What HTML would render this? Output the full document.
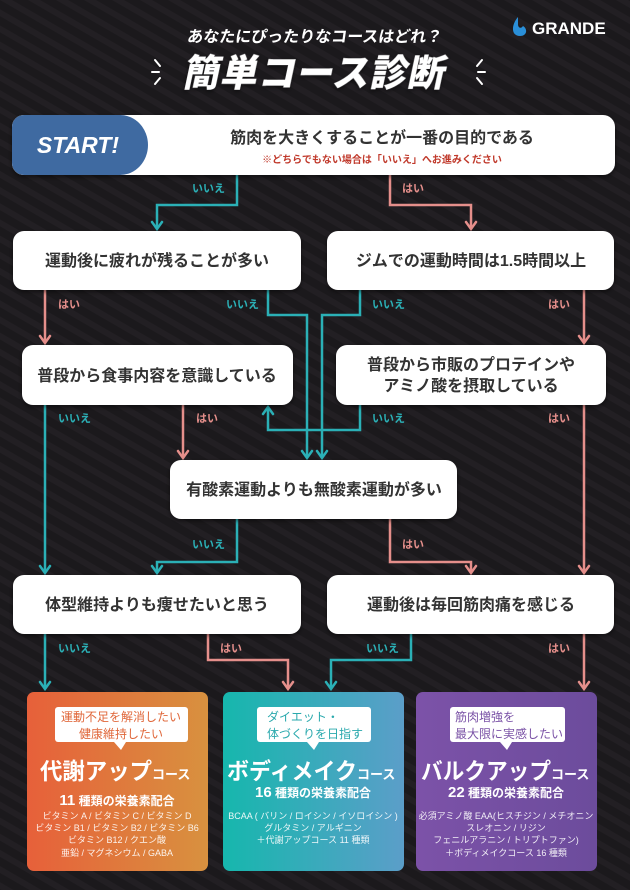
<!DOCTYPE html>
<html><head><meta charset="utf-8"><style>
html,body{margin:0;padding:0;background:#1b191c;}
svg{display:block}
text{font-family:"Liberation Sans","Noto Sans CJK JP",sans-serif;}
</style></head><body>
<svg width="630" height="890" viewBox="0 0 630 890" xmlns="http://www.w3.org/2000/svg">
<defs>
<pattern id="st" width="14" height="14" patternUnits="userSpaceOnUse" patternTransform="rotate(-60)">
<rect width="14" height="14" fill="#1b191c"/><rect width="6" height="14" fill="#221f23"/>
</pattern>
<linearGradient id="g1" x1="0" x2="1"><stop offset="0" stop-color="#e7603a"/><stop offset="1" stop-color="#d8913f"/></linearGradient>
<linearGradient id="g2" x1="0" x2="1"><stop offset="0" stop-color="#16b7ad"/><stop offset="1" stop-color="#5b9ec9"/></linearGradient>
<linearGradient id="g3" x1="0" x2="1"><stop offset="0" stop-color="#7c52a8"/><stop offset="1" stop-color="#6c4c9c"/></linearGradient>
<filter id="sh"><feDropShadow dx="0" dy="2" stdDeviation="2" flood-color="#000" flood-opacity="0.5"/></filter>
</defs>
<rect width="630" height="890" fill="url(#st)"/>

<!-- header -->
<text x="315" y="42" font-size="16" fill="#fff" text-anchor="middle" font-weight="bold" transform="skewX(-8) translate(5,0)">あなたにぴったりなコースはどれ？</text>
<text x="314" y="86" font-size="37" fill="#fff" text-anchor="middle" font-weight="900" transform="skewX(-12) translate(17,0)" filter="url(#sh)" textLength="262">簡単コース診断</text>
<g stroke="#fff" stroke-width="2" stroke-linecap="round">
<line x1="155" y1="60" x2="160" y2="66"/><line x1="152" y1="72" x2="159" y2="72"/><line x1="155" y1="84" x2="160" y2="78"/>
<line x1="482" y1="60" x2="477" y2="66"/><line x1="485" y1="72" x2="478" y2="72"/><line x1="482" y1="84" x2="477" y2="78"/>
</g>
<path d="M518 17 C511 25 511 36 520 36 C527 36 528 29 523 26 C521 29 518 28 518 24 Z" fill="#2a8fd8"/>
<text x="532" y="34" font-size="17" fill="#fff" font-weight="bold">GRANDE</text>

<!-- connectors -->
<g fill="none" stroke-width="2.5">
<g stroke="#2bb0b6">
<polyline points="237,175 237,205 157,205 157,228"/>
<polyline points="268,290 268,315 307,315 307,457"/>
<polyline points="360,290 360,315 322,315 322,457"/>
<polyline points="45,405 45,572"/>
<polyline points="360,405 360,430 268,430 268,408"/>
<polyline points="237,519 237,562 157,562 157,572"/>
<polyline points="45,634 45,688"/>
<polyline points="411,634 411,660 331,660 331,688"/>
</g>
<g stroke="#e58f8b">
<polyline points="390,175 390,205 471,205 471,228"/>
<polyline points="45,290 45,342"/>
<polyline points="584,290 584,342"/>
<polyline points="183,405 183,457"/>
<polyline points="584,405 584,572"/>
<polyline points="390,519 390,562 471,562 471,572"/>
<polyline points="208,634 208,660 288,660 288,688"/>
<polyline points="584,634 584,688"/>
</g>
<g stroke="#2bb0b6" stroke-linecap="round">
<polyline points="152,222 157,229 162,222"/><polyline points="302,451 307,458 312,451"/><polyline points="317,451 322,458 327,451"/>
<polyline points="40,566 45,573 50,566"/><polyline points="263,414 268,407 273,414"/><polyline points="152,566 157,573 162,566"/>
<polyline points="40,682 45,689 50,682"/><polyline points="326,682 331,689 336,682"/>
</g>
<g stroke="#e58f8b" stroke-linecap="round">
<polyline points="466,222 471,229 476,222"/><polyline points="40,336 45,343 50,336"/><polyline points="579,336 584,343 589,336"/>
<polyline points="178,451 183,458 188,451"/><polyline points="579,566 584,573 589,566"/><polyline points="466,566 471,573 476,566"/>
<polyline points="283,682 288,689 293,682"/><polyline points="579,682 584,689 589,682"/>
</g>
</g>
<g font-size="11" font-weight="bold">
<g fill="#2bb0b6">
<text x="192" y="192">いいえ</text><text x="226" y="308">いいえ</text><text x="372" y="308">いいえ</text>
<text x="58" y="422">いいえ</text><text x="372" y="422">いいえ</text><text x="192" y="548">いいえ</text>
<text x="58" y="652">いいえ</text><text x="366" y="652">いいえ</text>
</g>
<g fill="#e58f8b">
<text x="402" y="192">はい</text><text x="58" y="308">はい</text><text x="548" y="308">はい</text>
<text x="196" y="422">はい</text><text x="548" y="422">はい</text><text x="402" y="548">はい</text>
<text x="220" y="652">はい</text><text x="548" y="652">はい</text>
</g>
</g>

<!-- start -->
<g filter="url(#sh)">
<rect x="12" y="115" width="603" height="60" rx="12" fill="#fff"/>
</g>
<path d="M24 115 H120 A28 30 0 0 1 120 175 H24 A12 12 0 0 1 12 163 V127 A12 12 0 0 1 24 115 Z" fill="#3f6aa1"/>
<text x="78" y="153" font-size="23" font-weight="bold" fill="#fff" text-anchor="middle" font-style="italic">START!</text>
<text x="382" y="143" font-size="16" font-weight="bold" fill="#333" text-anchor="middle">筋肉を大きくすることが一番の目的である</text>
<text x="382" y="163" font-size="10" font-weight="bold" fill="#c0392b" text-anchor="middle">※どちらでもない場合は「いいえ」へお進みください</text>

<!-- nodes -->
<g filter="url(#sh)" fill="#fff">
<rect x="13" y="231" width="288" height="59" rx="11"/>
<rect x="327" y="231" width="287" height="59" rx="11"/>
<rect x="22" y="345" width="271" height="60" rx="11"/>
<rect x="336" y="345" width="270" height="60" rx="11"/>
<rect x="170" y="460" width="287" height="59" rx="11"/>
<rect x="13" y="575" width="288" height="59" rx="11"/>
<rect x="327" y="575" width="287" height="59" rx="11"/>
</g>
<g font-size="16" font-weight="bold" fill="#333" text-anchor="middle">
<text x="157" y="266">運動後に疲れが残ることが多い</text>
<text x="471" y="266">ジムでの運動時間は1.5時間以上</text>
<text x="157" y="381">普段から食事内容を意識している</text>
<text x="471" y="370">普段から市販のプロテインや</text>
<text x="471" y="391">アミノ酸を摂取している</text>
<text x="314" y="495">有酸素運動よりも無酸素運動が多い</text>
<text x="157" y="610">体型維持よりも痩せたいと思う</text>
<text x="471" y="610">運動後は毎回筋肉痛を感じる</text>
</g>

<!-- cards -->
<rect x="27" y="692" width="181" height="179" rx="7" fill="url(#g1)"/>
<rect x="223" y="692" width="181" height="179" rx="7" fill="url(#g2)"/>
<rect x="416" y="692" width="181" height="179" rx="7" fill="url(#g3)"/>
<g fill="#fff">
<rect x="55" y="707" width="133" height="35" rx="3"/><path d="M114 742 L121 750 L126 742Z"/>
<rect x="257" y="707" width="114" height="35" rx="3"/><path d="M307 742 L314 750 L319 742Z"/>
<rect x="450" y="707" width="115" height="35" rx="3"/><path d="M500 742 L507 750 L512 742Z"/>
</g>
<g font-size="12">
<text x="121" y="721" fill="#e0673a" text-anchor="middle">運動不足を解消したい</text>
<text x="121" y="738" fill="#e0673a" text-anchor="middle">健康維持したい</text>
<text x="267" y="721" fill="#2aa9ad">ダイエット・</text>
<text x="267" y="738" fill="#2aa9ad">体づくりを日指す</text>
<text x="455" y="721" fill="#7a52a6">筋肉増強を</text>
<text x="455" y="738" fill="#7a52a6">最大限に実感したい</text>
</g>
<g fill="#fff" font-weight="bold">
<text x="40" y="779"><tspan font-size="23" textLength="112" lengthAdjust="spacingAndGlyphs">代謝アップ</tspan><tspan font-size="13">コース</tspan></text>
<text x="227" y="779"><tspan font-size="23" textLength="130" lengthAdjust="spacingAndGlyphs">ボディメイク</tspan><tspan font-size="13">コース</tspan></text>
<text x="421" y="779"><tspan font-size="23" textLength="130" lengthAdjust="spacingAndGlyphs">バルクアップ</tspan><tspan font-size="13">コース</tspan></text>
<text x="117" y="805" text-anchor="middle"><tspan font-size="15">11</tspan><tspan font-size="12"> 種類の栄養素配合</tspan></text>
<text x="313" y="797" text-anchor="middle"><tspan font-size="15">16</tspan><tspan font-size="12"> 種類の栄養素配合</tspan></text>
<text x="506" y="797" text-anchor="middle"><tspan font-size="15">22</tspan><tspan font-size="12"> 種類の栄養素配合</tspan></text>
</g>
<g fill="#fff" fill-opacity="0.9" font-size="9" text-anchor="middle">
<text x="117" y="819">ビタミン A / ビタミン C / ビタミン D</text>
<text x="117" y="831">ビタミン B1 / ビタミン B2 / ビタミン B6</text>
<text x="117" y="843">ビタミン B12 / クエン酸</text>
<text x="117" y="856">亜鉛 / マグネシウム / GABA</text>
<text x="313" y="819">BCAA ( バリン / ロイシン / イソロイシン )</text>
<text x="313" y="831">グルタミン / アルギニン</text>
<text x="313" y="843">＋代謝アップコース 11 種類</text>
<text x="506" y="819">必須アミノ酸 EAA(ヒスチジン / メチオニン</text>
<text x="506" y="831">スレオニン / リジン</text>
<text x="506" y="843">フェニルアラニン / トリプトファン)</text>
<text x="506" y="856">＋ボディメイクコース 16 種類</text>
</g>
</svg>
</body></html>
